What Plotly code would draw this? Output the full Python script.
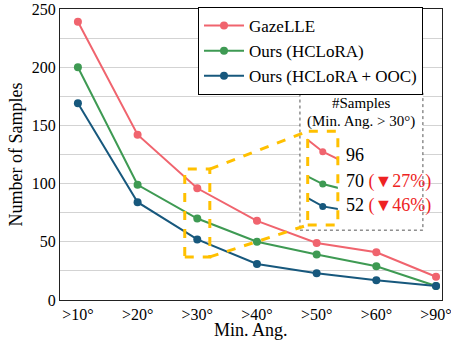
import plotly.graph_objects as go

categories = [">10°", ">20°", ">30°", ">40°", ">50°", ">60°", ">90°"]
gazelle = [239, 142, 96, 68, 49, 41, 20]
hclora = [200, 99, 70, 50, 39, 29, 12]
hclora_ooc = [169, 84, 52, 31, 23, 17, 12]
series_names = ["GazeLLE", "Ours (HCLoRA)", "Ours (HCLoRA + OOC)"]
series_colors = ["#F0646E", "#3E9A53", "#17587D"]
inset_labels = ["96", "70", "52"]
inset_drops = ["", "(▼27%)", "(▼46%)"]

FONT = "Times New Roman, Liberation Serif, Tinos, serif"
XR = [-0.3, 6.1]
YR = [0, 250]

# zoom regions (data coordinates of main axes)
small = dict(x0=1.79, x1=2.21, y0=37, y1=112.5)
big = dict(x0=3.85, x1=4.355, y0=64.4, y1=145)
box = dict(x0=3.72, x1=5.78, y0=60, y1=178)


def px(x):
    return (x - XR[0]) / (XR[1] - XR[0])


def py(y):
    return (y - YR[0]) / (YR[1] - YR[0])


fig = go.Figure()
for name, vals, col in zip(series_names, [gazelle, hclora, hclora_ooc], series_colors):
    fig.add_trace(go.Scatter(x=categories, y=vals, name=name, mode="lines+markers",
                             line=dict(color=col, width=2),
                             marker=dict(color=col, size=8)))
    fig.add_trace(go.Scatter(x=categories, y=vals, name=name, mode="lines+markers",
                             xaxis="x2", yaxis="y2", showlegend=False,
                             line=dict(color=col, width=2),
                             marker=dict(color=col, size=7)))

yellow = "#FFC000"
fig.add_shape(type="rect", xref="x", yref="y", x0=box["x0"], x1=box["x1"], y0=box["y0"], y1=box["y1"],
              line=dict(color="#555555", width=1, dash="dot"), fillcolor="white", layer="between")
for r in (small, big):
    fig.add_shape(type="rect", xref="x", yref="y", x0=r["x0"], x1=r["x1"], y0=r["y0"], y1=r["y1"],
                  line=dict(color=yellow, width=3, dash="dash"), layer="above")
fig.add_shape(type="line", xref="x", yref="y", x0=small["x1"], y0=small["y1"], x1=big["x0"], y1=big["y1"],
              line=dict(color=yellow, width=3, dash="dash"), layer="above")
fig.add_shape(type="line", xref="x", yref="y", x0=small["x1"], y0=small["y0"], x1=big["x0"], y1=big["y0"],
              line=dict(color=yellow, width=3, dash="dash"), layer="above")

cx = (box["x0"] + box["x1"]) / 2
fig.add_annotation(x=cx, y=169.5, xref="x", yref="y", text="#Samples", showarrow=False,
                   font=dict(family=FONT, size=15, color="black"))
fig.add_annotation(x=cx, y=153.5, xref="x", yref="y", text="(Min. Ang. > 30°)", showarrow=False,
                   font=dict(family=FONT, size=15, color="black"))
text_y = [125, 102, 81]
for lab, drop, ty in zip(inset_labels, inset_drops, text_y):
    t = lab if not drop else f"{lab} <span style='color:#EE2222'>{drop}</span>"
    fig.add_annotation(x=4.45, y=ty, xref="x", yref="y", text=t, showarrow=False,
                       xanchor="left", font=dict(family=FONT, size=18, color="black"))

# x-axis title
fig.add_annotation(x=0.5, y=(300 - 341) / 291, xref="paper", yref="paper", text="Min. Ang.",
                   showarrow=False, yanchor="bottom", borderpad=0,
                   font=dict(family=FONT, size=18, color="black"))

fig.update_layout(
    width=451, height=341,
    margin=dict(l=60, r=9, t=9, b=41, autoexpand=False),
    paper_bgcolor="white", plot_bgcolor="rgba(0,0,0,0)",
    font=dict(family=FONT, size=16, color="black"),
    showlegend=True,
    legend=dict(x=(198 - 60) / 382, y=(300 - 7) / 291, xanchor="left", yanchor="top",
                bordercolor="black", borderwidth=1, bgcolor="white",
                font=dict(family=FONT, size=17), tracegroupgap=0, itemwidth=40),
    xaxis=dict(type="category", range=XR, showgrid=False, showline=True, linecolor="#222222",
               linewidth=1, mirror=True, ticks="", tickfont=dict(size=16), automargin=False),
    yaxis=dict(range=YR, tickvals=[0, 50, 100, 150, 200, 250], showgrid=True, gridcolor="#D3D3D3",
               showline=True, linecolor="#222222", linewidth=1, mirror=True, ticks="",
               tickfont=dict(size=16), zeroline=False, automargin=False,
               title=dict(text="Number of Samples", font=dict(size=18), standoff=4),
               minor=dict(dtick=25, tick0=0, showgrid=True, gridcolor="#D3D3D3", gridwidth=1)),
    xaxis2=dict(type="category", categoryarray=categories, range=[small["x0"], small["x1"]],
                domain=[px(big["x0"]), px(big["x1"])], anchor="y2",
                visible=False, showgrid=False),
    yaxis2=dict(range=[small["y0"], small["y1"]], domain=[py(big["y0"]), py(big["y1"])], anchor="x2",
                visible=False, showgrid=False, zeroline=False),
)

fig.write_html("out.html", config={"displayModeBar": False},
               post_script="document.body.style.margin='0';")
